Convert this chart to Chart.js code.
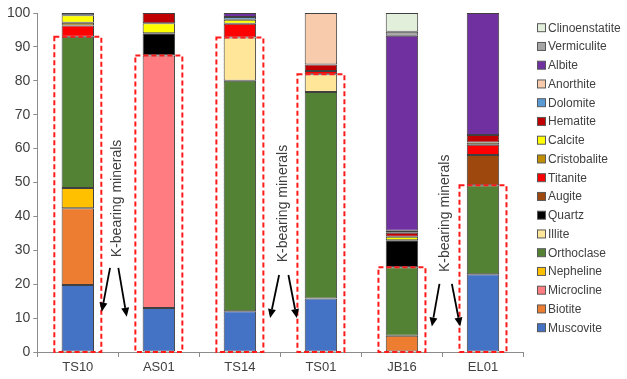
<!DOCTYPE html>
<html><head><meta charset="utf-8">
<script src="https://cdn.jsdelivr.net/npm/chart.js@4.4.0/dist/chart.umd.min.js"></script>
<style>html,body{margin:0;padding:0;background:#fff;}#wrap{width:627px;height:379px;}</style>
</head><body><div id="wrap"><canvas id="c" width="627" height="379"></canvas></div>
<script>
// ---- data ----
const samples = ['TS10', 'AS01', 'TS14', 'TS01', 'JB16', 'EL01'];
const yTickValues = [0, 10, 20, 30, 40, 50, 60, 70, 80, 90, 100];
const muscovite      = [19.8, 13.0, 12.0, 15.8, null, 22.9];
const biotite        = [22.6, null, null, null, 4.8, null];
const microcline     = [null, 74.5, null, null, null, null];
const nepheline      = [6.0, null, null, null, null, null];
const orthoclase     = [44.6, null, 68.0, 60.9, 20.2, 26.3];
const illite         = [null, null, 12.8, 5.2, null, null];
const quartz         = [null, 6.5, null, null, 8.0, null];
const augite         = [null, null, null, null, null, 8.9];
const titanite       = [3.3, null, 4.0, 1.0, null, 3.0];
const cristobalite   = [0.8, null, null, null, null, 0.7];
const calcite        = [2.2, 3.0, 1.2, null, 1.0, null];
const hematite       = [null, 3.0, null, 1.9, 1.2, 2.2];
const dolomite       = [0.7, null, 0.8, null, 0.6, null];
const anorthite      = [null, null, null, 15.2, null, null];
const albite         = [null, null, 1.2, null, 57.5, 36.0];
const vermiculite    = [null, null, null, null, 1.2, null];
const clinoenstatite = [null, null, null, null, 5.5, null];
const annotationText = 'K-bearing minerals';
const kBearingNames = ['Muscovite', 'Biotite', 'Microcline', 'Nepheline', 'Orthoclase', 'Illite'];

// ---- styles ----
const colors = {
  Muscovite: '#4472C4', Biotite: '#ED7D31', Microcline: '#FF7C80', Nepheline: '#FFC000',
  Orthoclase: '#548235', Illite: '#FFE699', Quartz: '#000000', Augite: '#9E480E',
  Titanite: '#FF0000', Cristobalite: '#BF8F00', Calcite: '#FFFF00', Hematite: '#C00000',
  Dolomite: '#5B9BD5', Anorthite: '#F8CBAD', Albite: '#7030A0', Vermiculite: '#A5A5A5',
  Clinoenstatite: '#E2EFDA'
};
const series = [
  ['Muscovite', muscovite], ['Biotite', biotite], ['Microcline', microcline], ['Nepheline', nepheline],
  ['Orthoclase', orthoclase], ['Illite', illite], ['Quartz', quartz], ['Augite', augite],
  ['Titanite', titanite], ['Cristobalite', cristobalite], ['Calcite', calcite], ['Hematite', hematite],
  ['Dolomite', dolomite], ['Anorthite', anorthite], ['Albite', albite], ['Vermiculite', vermiculite],
  ['Clinoenstatite', clinoenstatite]
];
const FONT = '"Liberation Sans", Arial, sans-serif';
const TXT = '#404040';
const AXIS = '#8c8c8c';

const kSum = samples.map((s, i) => series.filter(([n]) => kBearingNames.includes(n))
  .reduce((a, [, d]) => a + (d[i] || 0), 0));

const datasets = series.map(([label, data]) => ({
  label, data,
  backgroundColor: colors[label],
  borderColor: '#404040',
  borderWidth: 1,
  borderSkipped: false,
  barPercentage: 0.4,
  categoryPercentage: 1.0
}));

// annotation groups: [left category, right category], text y, arrow start y, arrow tips y (values), x offsets px
const groups = [
  {pair: [0, 1], textY: 45.3, tdx: -1.6, a1: [-8.3, 24.8, -16.6, 11.9], a2: [0, 24.8, 8.4, 10.4]},
  {pair: [2, 3], textY: 43.8, tdx: 3, a1: [-1.3, 22.7, -10.3, 10.0], a2: [8, 22.7, 16.4, 10.0]},
  {pair: [4, 5], textY: 40.9, tdx: 2.7, a1: [-3, 20.1, -10.6, 7.5], a2: [9.4, 20.1, 17.7, 7.5]}
];

function arrow(ctx, x1, y1, x2, y2) {
  const ang = Math.atan2(y2 - y1, x2 - x1);
  const L = 9, W = 4;
  const bx = x2 - L * Math.cos(ang), by = y2 - L * Math.sin(ang);
  ctx.beginPath(); ctx.moveTo(x1, y1); ctx.lineTo(bx, by); ctx.stroke();
  ctx.beginPath();
  ctx.moveTo(x2, y2);
  ctx.lineTo(bx + W * Math.sin(ang), by - W * Math.cos(ang));
  ctx.lineTo(bx - W * Math.sin(ang), by + W * Math.cos(ang));
  ctx.closePath(); ctx.fill();
}

const overlay = {
  id: 'overlay',
  afterDatasetsDraw(chart) {
    const {ctx, scales: {x, y}} = chart;
    const cw = x.getPixelForValue(1) - x.getPixelForValue(0);
    ctx.save();
    ctx.strokeStyle = '#FF1A1A';
    ctx.lineWidth = 2;
    ctx.setLineDash([5, 3]);
    kSum.forEach((v, i) => {
      const cx = x.getPixelForValue(i);
      const l = cx - 0.29 * cw, r = cx + 0.29 * cw;
      const t = y.getPixelForValue(v), b = y.getPixelForValue(0);
      ctx.strokeRect(l, t, r - l, b - t);
    });
    ctx.restore();
  },
  afterDraw(chart) {
    const {ctx, scales: {x, y}} = chart;
    ctx.save();
    ctx.strokeStyle = '#000';
    ctx.lineWidth = 1.8;
    groups.forEach(g => {
      const mid = (x.getPixelForValue(g.pair[0]) + x.getPixelForValue(g.pair[1])) / 2;
      ctx.save();
      ctx.translate(mid + g.tdx, y.getPixelForValue(g.textY));
      ctx.rotate(-Math.PI / 2);
      ctx.font = '14px ' + FONT;
      ctx.fillStyle = TXT;
      ctx.textAlign = 'center';
      ctx.textBaseline = 'middle';
      ctx.fillText(annotationText, 0, 0);
      ctx.restore();
      ctx.fillStyle = '#000';
      [g.a1, g.a2].forEach(a => arrow(ctx, mid + a[0], y.getPixelForValue(a[1]), mid + a[2], y.getPixelForValue(a[3])));
    });
    // legend (reversed order)
    const items = chart.data.datasets.slice().reverse();
    ctx.font = '12px ' + FONT;
    ctx.textBaseline = 'middle';
    ctx.textAlign = 'left';
    items.forEach((ds, k) => {
      const cy = 27.7 + k * 18.75;
      ctx.fillStyle = ds.backgroundColor;
      ctx.fillRect(537.5, cy - 4, 8, 8);
      ctx.strokeStyle = '#595959';
      ctx.lineWidth = 1;
      ctx.strokeRect(537.5, cy - 4, 8, 8);
      ctx.fillStyle = TXT;
      ctx.fillText(ds.label, 548, cy + 0.5);
    });
    ctx.restore();
  }
};

new Chart(document.getElementById('c'), {
  type: 'bar',
  data: {labels: samples, datasets},
  options: {
    responsive: false,
    animation: false,
    devicePixelRatio: 1,
    layout: {padding: {top: 13, right: 103.5, left: 0, bottom: 0}},
    plugins: {legend: {display: false}, tooltip: {enabled: false}},
    scales: {
      x: {
        stacked: true,
        grid: {display: true, drawOnChartArea: false, drawTicks: true, tickLength: 5, color: AXIS, offset: true},
        border: {color: AXIS, width: 1},
        ticks: {color: TXT, font: {family: FONT, size: 13}, padding: 3},
        afterFit(s) { s.height = 27; }
      },
      y: {
        stacked: true,
        min: 0, max: 100,
        afterBuildTicks(s) { s.ticks = yTickValues.map(v => ({value: v})); },
        grid: {display: true, drawOnChartArea: false, drawTicks: true, tickLength: 4, color: AXIS},
        border: {color: AXIS, width: 1},
        ticks: {color: TXT, font: {family: FONT, size: 14}, padding: 3},
        afterFit(s) { s.width = 37.3; }
      }
    }
  },
  plugins: [overlay]
});
</script></body></html>
